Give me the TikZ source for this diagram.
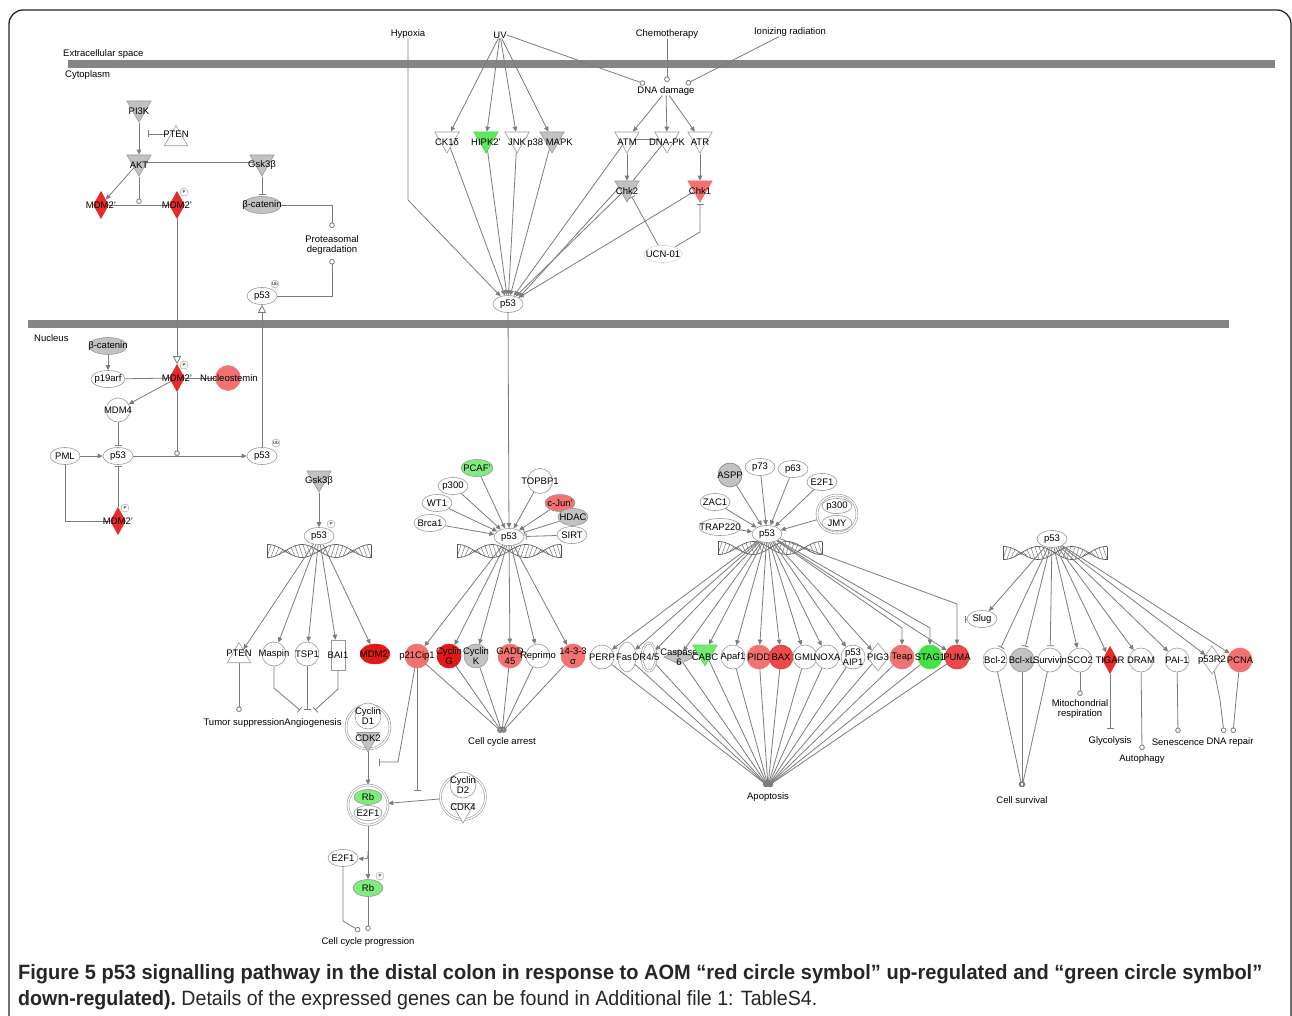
\documentclass[tikz,border=0pt]{standalone}
\usepackage{fontspec}
\setmainfont{Liberation Sans}
\usetikzlibrary{shapes.geometric,arrows.meta,calc}
\definecolor{lc}{HTML}{7C7C7C}
\definecolor{bc}{HTML}{999999}
\definecolor{barc}{HTML}{858585}
\definecolor{rA}{HTML}{E82A2A}
\definecolor{rB}{HTML}{F27272}
\definecolor{rD}{HTML}{E01818}
\definecolor{gA}{HTML}{80EC80}
\definecolor{gB}{HTML}{48E048}
\definecolor{gy}{HTML}{C2C2C2}
\newcommand\dfs{\fontsize{9.5}{9.8}\selectfont}
\pgfdeclarelayer{hel}
\pgfdeclarelayer{edges}
\pgfsetlayers{hel,edges,main}
\tikzset{
  lbl/.style={font=\dfs, inner sep=0pt, align=center, text=black},
  tx/.style={label={[lbl]center:#1}},
  txd/.style={label={[lbl,yshift=-3pt]center:#1}},
  shp/.style={draw=bc, fill=white, line width=0.6pt, inner sep=0pt},
  ov/.style={shp, ellipse, minimum width=30pt, minimum height=17pt},
  cir/.style={shp, circle, minimum size=24pt},
  tridn/.style={shp, regular polygon, regular polygon sides=3, shape border rotate=180, minimum size=28pt},
  triup/.style={shp, regular polygon, regular polygon sides=3, minimum size=27pt},
  dia/.style={shp, diamond, minimum width=15pt, minimum height=27pt},
  cplx/.style={shp, double=white, double distance=1.3pt},
  ed/.style={draw=lc, line width=0.8pt},
  ar/.style={ed, -{Triangle[length=5pt,width=4.5pt]}},
  tee/.style={ed, -{Bar[width=7pt]}, shorten >=1.5pt},
  lt/.style={ed, -{Circle[open,length=5.5pt]}},
  oar/.style={ed, -{Triangle[open,length=8pt,width=8pt]}},
  pm/.style={circle, draw=bc, fill=white, inner sep=0pt, minimum size=8pt, font=\fontsize{4.5}{5}\selectfont},
  helix/.pic={
    \foreach \t in {-50,-46,...,50}
      \draw[lc, line width=0.5pt] ({\t-2},{6.5*sin(5.3*(\t-2))}) -- ({\t+2},{-6.5*sin(5.3*(\t+2))});
    \draw[lc!70!black, line width=0.65pt] plot[domain=-52:52, samples=70, smooth] (\x,{6.5*sin(5.3*\x)});
    \draw[lc!70!black, line width=0.65pt] plot[domain=-52:52, samples=70, smooth] (\x,{-6.5*sin(5.3*\x)});
    \draw[lc!70!black, line width=0.65pt] (-52,-6.5) -- (-52,6.5) (52,-6.5) -- (52,6.5);
  }
}
\begin{document}
\begin{tikzpicture}[x=1pt,y=-1pt]
\useasboundingbox (0,0) rectangle (1292,1016);
\begin{pgfonlayer}{hel}
\fill[white] (0,0) rectangle (1292,1016);
\draw[line width=1.3pt, black!85, rounded corners=14pt] (9,1040) -- (9,10) -- (1291,10) -- (1291,1040);
\fill[barc] (68,60) rectangle (1275,68);
\fill[barc] (28,320) rectangle (1229,328);
\pic at (319,551) {helix};
\pic at (509,551) {helix};
\pic at (770,548) {helix};
\pic at (1055,553) {helix};
\end{pgfonlayer}

% compartments
\node[lbl, anchor=west] (lext) at (63,54) {Extracellular space};
\node[lbl, anchor=west] (lcyt) at (65,75) {Cytoplasm};
\node[lbl, anchor=west] (lnuc) at (34,338) {Nucleus};

% top sources
\node[lbl] (hyp) at (408,34) {Hypoxia};
\node[lbl] (uv) at (500,35) {UV};
\node[lbl] (chemo) at (667,34) {Chemotherapy};
\node[lbl] (ion) at (790,32) {Ionizing radiation};
\node[lbl] (dna) at (666,91) {DNA damage};
\coordinate (dA) at (645,84);
\coordinate (dB) at (667,82);
\coordinate (dC) at (686,84);

\node[tridn, txd=CK1δ] (ck1) at (447,139) {};
\node[tridn, fill=gB!85, draw=gB, txd=HIPK2'] (hipk) at (486,139) {};
\node[tridn, txd=JNK] (jnk) at (517,139) {};
\node[tridn, fill=gy] (p38) at (552,139) {};
\node[lbl] (p38t) at (550,143) {p38 MAPK};
\node[tridn, txd=ATM] (atm) at (627,139) {};
\node[tridn, txd=DNA-PK] (dnapk) at (667,139) {};
\node[tridn, txd=ATR] (atr) at (700,139) {};
\node[tridn, fill=gy, txd=Chk2] (chk2) at (627,188) {};
\node[tridn, fill=rB, draw=rB, txd=Chk1] (chk1) at (700,188) {};
\node[ov, draw=bc!40, minimum width=38pt, tx=UCN-01] (ucn) at (663,254) {};
\node[ov, tx=p53] (p53top) at (508,304) {};

% cytoplasm left
\node[tridn, fill=gy, txd=PI3K] (pi3k) at (139,108) {};
\node[triup, label={[lbl,yshift=5pt]center:PTEN}] (pten) at (176,139) {};
\node[tridn, fill=gy, txd=AKT] (akt) at (139,162) {};
\node[tridn, fill=gy, txd=Gsk3β] (gsk) at (262,162) {};
\node[ov, fill=gy, minimum width=38pt, tx=β-catenin] (bcat) at (262,205) {};
\node[dia, fill=rA, draw=rA, tx=MDM2'] (mdm2a) at (101,205) {};
\node[dia, fill=rA, draw=rA, tx=MDM2'] (mdm2b) at (177,205) {};
\node[pm] (pmb) at (184,192) {P};
\coordinate (akc) at (139,204);
\coordinate (ptT) at (146,134);
\coordinate (pdA) at (332,228);
\node[lbl] (pd) at (332,245) {Proteasomal\\degradation};
\coordinate (pdB) at (332,259);
\node[ov, tx=p53] (p53c) at (262,296) {};
\node[pm] (ubc) at (275,284) {Ub};

% nucleus left
\node[ov, fill=gy, minimum width=38pt, tx=β-catenin] (bcatn) at (108,346) {};
\node[ov, minimum width=34pt, tx=p19arf] (p19) at (108,379) {};
\node[circle, fill=rB, draw=rB, minimum size=25pt, inner sep=0pt] (nucleo) at (228,378) {};
\node[dia, fill=rA, draw=rA, tx=MDM2'] (mdm2c) at (177,378) {};
\node[pm] (pmc) at (184,365) {P};
\node[lbl] (nucleot) at (229,378) {Nucleostemin};
\node[cir, tx=MDM4] (mdm4) at (118,410) {};
\node[ov, tx=PML] (pml) at (65,456) {};
\node[ov, tx=p53] (p53n) at (118,456) {};
\node[ov, tx=p53] (p53ub) at (262,456) {};
\node[pm] (ubn) at (276,443) {Ub};
\node[dia, fill=rA, draw=rA, tx=MDM2'] (mdm2d) at (118,521) {};
\node[pm] (pmd) at (125,508) {P};
\coordinate (scN) at (177,456);

% left p53 group
\node[tridn, fill=gy, txd=Gsk3β] (gsk2) at (319,478) {};
\node[ov, tx=p53] (p53L) at (319,536) {};
\node[pm] (pmL) at (331,524) {P};
\node[triup, label={[lbl,yshift=3pt]center:PTEN}] (ptenL) at (239,656) {};
\node[cir, tx=Maspin] (maspin) at (274,654) {};
\node[cir, tx=TSP1] (tsp1) at (307,654) {};
\node[shp, minimum width=14pt, minimum height=30pt, tx=BAI1] (bai1) at (338,655) {};
\node[ellipse, fill=rD, draw=rD, minimum width=30pt, minimum height=20pt, inner sep=0pt, tx=MDM2'] (mdm2e) at (375,654) {};
\coordinate (tumc) at (239,712);
\node[lbl] (tum) at (244,723) {Tumor suppression};
\node[lbl] (ang) at (313,723) {Angiogenesis};
\coordinate (angA) at (301,711);
\coordinate (angB) at (307,711);
\coordinate (angC) at (314,711);

% middle p53 group
\node[ov, fill=gA, minimum width=32pt, tx=PCAF'] (pcaf) at (477,468) {};
\node[ov, tx=p300] (p300a) at (453,486) {};
\node[ov, tx=WT1] (wt1) at (437,503) {};
\node[ov, minimum width=32pt, tx=Brca1] (brca1) at (430,523) {};
\node[cir, minimum size=25pt, tx=TOPBP1] (topbp1) at (540,481) {};
\node[ov, fill=rB, tx=c-Jun'] (cjun) at (560,503) {};
\node[ov, fill=gy, tx=HDAC] (hdac) at (573,517) {};
\node[ov, tx=SIRT] (sirt) at (572,535) {};
\node[ov, tx=p53] (p53M) at (509,537) {};
\node[cir, fill=rB, draw=rB, tx=p21Cip1] (p21) at (417,656) {};
\node[cir, fill=rD, draw=rD, tx={Cyclin\\G}] (cycG) at (449,656) {};
\node[cir, fill=gy, tx={Cyclin\\K}] (cycK) at (476,656) {};
\node[cir, fill=rB, draw=rB, tx={GADD\\45}] (gadd) at (510,656) {};
\node[cir, tx=Reprimo] (reprimo) at (538,656) {};
\node[cir, fill=rB, draw=rB, tx={14-3-3\\σ}] (s1433) at (573,656) {};
\coordinate (cca) at (502,732);
\node[lbl] (ccat) at (502,742) {Cell cycle arrest};

% cyclin complexes
\node[cplx, circle, minimum size=44pt] (cdk2c) at (368,727) {};
\node[shp, circle, minimum size=26pt, tx={Cyclin\\D1}] (cycd1) at (368,716) {};
\node[tridn, fill=gy, minimum size=26pt, label={[lbl,yshift=1pt]center:CDK2}] (cdk2) at (368,739) {};
\node[cplx, circle, minimum size=40pt] (rbc) at (368,805) {};
\node[ov, fill=gA, minimum width=28pt, minimum height=15pt, tx=Rb] (rb) at (368,797) {};
\node[ov, minimum width=28pt, minimum height=15pt, tx=E2F1] (e2f1in) at (368,813) {};
\node[cplx, circle, minimum size=45pt] (cdk4c) at (463,797) {};
\node[shp, circle, minimum size=26pt, tx={Cyclin\\D2}] (cycd2) at (463,785) {};
\node[tridn, minimum size=26pt, label={[lbl,yshift=3pt]center:CDK4}] (cdk4) at (463,810) {};
\node[ov, tx=E2F1] (e2f1) at (343,858) {};
\node[ov, fill=gA, tx=Rb] (rbp) at (368,888) {};
\node[pm] (pmr) at (380,876) {P};
\coordinate (hk) at (368,851);
\coordinate (ccpA) at (360,931);
\coordinate (ccpB) at (368,931);
\node[lbl] (ccp) at (368,942) {Cell cycle progression};

% apoptosis group
\node[cir, fill=gy, draw=gray, tx=ASPP] (aspp) at (730,475) {};
\node[ov, tx=p73] (p73) at (760,467) {};
\node[ov, tx=p63] (p63) at (793,469) {};
\node[ov, tx=E2F1] (e2f1b) at (822,482) {};
\node[ov, tx=ZAC1] (zac1) at (715,502) {};
\node[ov, minimum width=42pt, tx=TRAP220] (trap) at (720,527) {};
\node[cplx, ellipse, minimum width=40pt, minimum height=38pt] (jmyc) at (837,514) {};
\node[ov, minimum width=30pt, minimum height=15pt, tx=p300] (p300b) at (837,506) {};
\node[ov, minimum width=30pt, minimum height=15pt, tx=JMY] (jmy) at (837,523) {};
\node[ov, tx=p53] (p53R) at (767,534) {};
\node[cir, tx=PERP] (perp) at (602,657) {};
\node[shp, ellipse, minimum width=18pt, minimum height=30pt] (fas) at (627,657) {};
\node[cplx, ellipse, minimum width=14pt, minimum height=28pt] (dr45) at (649,657) {};
\node[lbl] (fast) at (624,657) {Fas};
\node[lbl] (dr45t) at (646,657) {DR4/5};
\node[shp, diamond, fill=gy, minimum width=30pt, minimum height=15pt, tx={Caspase\\6}] (casp6) at (679,657) {};
\node[tridn, fill=gB!75, draw=gB, label={[lbl,yshift=-5pt]center:CABC}] (cabc) at (705,652) {};
\node[cir, tx=Apaf1] (apaf1) at (733,657) {};
\node[cir, fill=rB, draw=rB, tx=PIDD] (pidd) at (759,657) {};
\node[cir, fill=rA!85, draw=rA, tx=BAX] (bax) at (781,657) {};
\node[cir, tx=GML] (gml) at (805,657) {};
\node[cir, tx=NOXA] (noxa) at (827,657) {};
\node[cir, tx={p53\\AIP1}] (aip1) at (853,657) {};
\node[dia, minimum width=22pt, minimum height=28pt, tx=PIG3] (pig3) at (878,657) {};
\node[cir, fill=rB, draw=rB, tx=Teap] (teap) at (902,657) {};
\node[cir, fill=gB, draw=gB, tx=STAG1] (stag1) at (930,657) {};
\node[cir, fill=rA!85, draw=rA, tx=PUMA] (puma) at (957,657) {};
\coordinate (apo) at (768,786);
\node[lbl] (apot) at (768,797) {Apoptosis};

% right group
\node[ov, tx=p53] (p53RR) at (1052,539) {};
\node[ov, tx=Slug] (slug) at (982,619) {};
\coordinate (slugT) at (963,619);
\node[cir, tx=Bcl-2] (bcl2) at (995,660) {};
\node[cir, fill=gy, tx=Bcl-xL] (bclxl) at (1022,660) {};
\node[cir, tx=Survivin] (surv) at (1050,660) {};
\node[cir, tx=SCO2] (sco2) at (1080,660) {};
\node[dia, fill=rA, draw=rA, tx=TIGAR] (tigar) at (1110,660) {};
\node[cir, tx=DRAM] (dram) at (1141,660) {};
\node[cir, tx=PAI-1] (pai1) at (1177,660) {};
\node[dia, minimum width=20pt, minimum height=28pt, tx=p53R2] (p53r2) at (1212,660) {};
\node[cir, fill=rB, draw=rB, tx=PCNA] (pcna) at (1240,660) {};
\coordinate (cs) at (1022,787);
\node[lbl] (cst) at (1022,800) {Cell survival};
\coordinate (mitoc) at (1080,696);
\node[lbl] (mito) at (1080,709) {Mitochondrial\\respiration};
\coordinate (glyc) at (1110,730);
\node[lbl] (glyct) at (1110,741) {Glycolysis};
\coordinate (autoc) at (1142,750);
\node[lbl] (autot) at (1142,759) {Autophagy};
\coordinate (senc) at (1178,733);
\node[lbl] (sent) at (1178,742) {Senescence};
\coordinate (drA) at (1224,733);
\coordinate (drB) at (1233,733);
\node[lbl] (drt) at (1230,742) {DNA repair};

% caption
\node[anchor=west, inner sep=0pt, text=black!85] (cap1) at (18,974) {\resizebox{1244pt}{15pt}{\bfseries Figure 5 p53 signalling pathway in the distal colon in response to AOM “red circle symbol” up-regulated and “green circle symbol”}};
\node[anchor=west, inner sep=0pt, text=black!85] (cap2) at (18,1000) {\resizebox{799pt}{15pt}{\bfseries down-regulated).\mdseries\ Details of the expressed genes can be found in Additional file 1: TableS4.}};

\begin{pgfonlayer}{edges}
% top
\draw[lt] (uv.east) -- (dA);
\draw[lt] (chemo) -- (dB);
\draw[lt] ($(ion.south)+(-11,0)$) -- (dC);
\foreach \n in {ck1,hipk,jnk,p38} \draw[ar] (uv) -- (\n);
\foreach \n in {atm,dnapk,atr} \draw[ar] (dna) -- (\n);
\draw[ed] (atm) -- (dnapk);
\draw[ar] (atm) -- (chk2);
\draw[ed] (dnapk) -- (chk2);
\draw[ar] (atr) -- (chk1);
\draw[tee] (ucn) -- (chk2);
\draw[tee] (ucn) -- (700,232) -- (chk1);
\draw[ar] (hyp) -- (408,200) -- (p53top);
\foreach \n in {ck1,hipk,jnk,p38,atm,chk2,chk1} \draw[ar] (\n) -- (p53top);
\draw[ar] (chk2.west) -- (p53top.north east);
\draw[ar] (p53top) -- (p53M);
% cytoplasm left
\draw[ar] (pi3k) -- (akt);
\draw[tee] (pten.west |- ptT) -- (ptT);
\draw[ed] (akt) -- (gsk);
\draw[tee] (gsk) -- (bcat);
\draw[ar] (akt) -- (mdm2a);
\draw[lt] (akt) -- (akc);
\draw[ed] (mdm2a) -- (mdm2b);
\draw[lt] (bcat) -- (pdA |- bcat) -- (pdA);
\draw[ed, {Circle[open,length=5.5pt]}-] (pdB) -- (pdB |- p53c) -- (p53c);
\draw[oar] (mdm2b) -- (mdm2c);
\draw[oar] (p53ub) -- (p53c);
% nucleus left
\draw[ar] (bcatn) -- (p19);
\draw[ed] (p19) -- (mdm2c);
\draw[ed] (mdm2c) -- (nucleo);
\draw[ar] (mdm2c) -- (mdm4);
\draw[tee] (mdm4) -- (p53n);
\draw[ar] (pml) -- (p53n);
\draw[ar] (p53n) -- (p53ub);
\draw[lt] (mdm2c) -- (scN);
\draw[tee] (mdm2d) -- (p53n);
\draw[ed] (pml) -- (pml |- mdm2d) -- (mdm2d);
% left group
\draw[ar] (gsk2) -- (p53L);
\foreach \n in {ptenL,maspin,tsp1,bai1,mdm2e} \draw[ar] (p53L) -- (\n);
\draw[lt] (ptenL) -- (tumc);
\draw[tee] (maspin) -- ($(maspin)+(0,34)$) -- (angA);
\draw[tee] (tsp1) -- (angB);
\draw[tee] (bai1) -- ($(bai1)+(0,34)$) -- (angC);
% middle group
\foreach \n in {pcaf,p300a,wt1,brca1,topbp1,cjun} \draw[ar] (\n) -- (p53M);
\draw[tee] (hdac) -- (p53M);
\draw[tee] (sirt) -- (p53M);
\foreach \n in {p21,cycG,cycK,gadd,reprimo,s1433} {\draw[ar] (p53M) -- (\n); \draw[lt] (\n) -- (cca);}
\draw[ar] (cdk2c) -- (rbc);
\draw[ar] (cdk4c) -- (rbc);
\draw[tee] (p21) -- (398,762) -- (377,762);
\draw[tee] (p21) -- (417,792);
\draw[ar] (rbc) -- (rbp);
\draw[ar] (hk) .. controls (368,859) .. (e2f1);
\draw[lt] (e2f1) -- (343,921) -- (ccpA);
\draw[lt] (rbp) -- (ccpB);
% apoptosis group
\foreach \n in {aspp,p73,p63,e2f1b,zac1,trap,jmyc} \draw[ar] (\n) -- (p53R);
\foreach \n in {perp,fas,dr45,casp6,cabc,apaf1,pidd,bax,gml,noxa,aip1,pig3} \draw[ar] (p53R) -- (\n);
\draw[ar] (p53R) -- (902,628) -- (teap);
\draw[ar] (p53R) -- (930,628) -- (stag1);
\draw[ar] (p53R) -- (puma);
\draw[ar] (p53R) -- (957,604) -- (puma);
\foreach \n in {perp,fas,dr45,casp6,cabc,apaf1,pidd,bax,gml,noxa,aip1,pig3,teap,stag1,puma} \draw[lt] (\n) -- (apo);
% right group
\draw[ar] (p53RR) -- (slug);
\draw[tee] (slug) -- (slugT);
\foreach \n in {bcl2,bclxl,surv} {\draw[tee] (p53RR) -- (\n); \draw[lt] (\n) -- (cs);}
\foreach \n in {sco2,tigar,dram,pai1,p53r2,pcna} \draw[ar] (p53RR) -- (\n);
\draw[lt] (sco2) -- (mitoc);
\draw[tee] (tigar) -- (glyc);
\draw[lt] (dram) -- (autoc);
\draw[lt] (pai1) -- (senc);
\draw[lt] (p53r2) -- (1220,700) -- (drA);
\draw[lt] (pcna) -- (1236,700) -- (drB);
\end{pgfonlayer}
\end{tikzpicture}
\end{document}
